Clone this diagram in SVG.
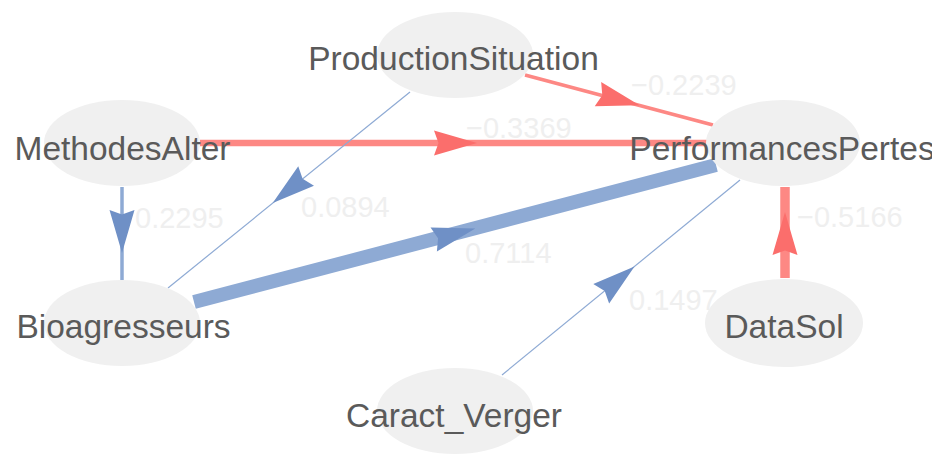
<svg xmlns="http://www.w3.org/2000/svg" xmlns:xlink="http://www.w3.org/1999/xlink" width="939" height="454" viewBox="0 0 939 454">
<style>
.node ellipse{fill:#f0f0f0;}
.node text{font-family:"Liberation Sans",Arial,sans-serif;font-size:33.5px;fill:#5a5a5a;text-anchor:middle;}
.lbl{font-family:"Liberation Sans",Arial,sans-serif;font-size:29px;fill:#efefef;}
.er{stroke:#fd8884;fill:none;stroke-linecap:butt;}
.eb{stroke:#8eaad4;fill:none;stroke-linecap:butt;}
.ar{fill:#fb6e6c;}
.ab{fill:#6f90c6;}
</style>
<defs>
<path id="arr" d="M0,0 L-43,12.5 L-38.5,0 L-43,-12.5 Z"/>
<clipPath id="clip"><rect x="0" y="0" width="932" height="454"/></clipPath>
</defs>
<rect width="939" height="454" fill="#ffffff"/>
<g id="connectors">
<g id="e-methodes-perf">
<line class="er" x1="200" y1="143" x2="708" y2="143" stroke-width="6.5"/>
<use href="#arr" class="ar" transform="translate(477,143)"/>
<text class="lbl" x="466" y="138">−0.3369</text>
</g>
<g id="e-prod-perf">
<line class="er" x1="525" y1="75" x2="713" y2="125" stroke-width="3.5"/>
<use href="#arr" class="ar" transform="translate(639.5,105.2) rotate(14.9)"/>
<text class="lbl" x="631" y="95">−0.2239</text>
</g>
<g id="e-prod-bio">
<line class="eb" x1="410" y1="92" x2="168" y2="288" stroke-width="1.2"/>
<use href="#arr" class="ab" transform="translate(272.7,203) rotate(141)"/>
<text class="lbl" x="301" y="217">0.0894</text>
</g>
<g id="e-methodes-bio">
<line class="eb" x1="122" y1="187" x2="122" y2="280" stroke-width="3.5"/>
<use href="#arr" class="ab" transform="translate(122,253) rotate(90)"/>
<text class="lbl" x="135" y="228">0.2295</text>
</g>
<g id="e-bio-perf">
<line class="eb" x1="194" y1="302" x2="716" y2="165" stroke-width="14"/>
<use href="#arr" class="ab" transform="translate(475.3,228.6) rotate(-14.7)"/>
<text class="lbl" x="465" y="263">0.7114</text>
</g>
<g id="e-caract-perf">
<line class="eb" x1="502" y1="375" x2="740" y2="180" stroke-width="1.2"/>
<use href="#arr" class="ab" transform="translate(634.5,266.5) rotate(-39.3)"/>
<text class="lbl" x="629" y="310">0.1497</text>
</g>
<g id="e-datasol-perf">
<line class="er" x1="785" y1="278" x2="785" y2="187" stroke-width="9.5"/>
<use href="#arr" class="ar" transform="translate(785,212) rotate(-90)"/>
<text class="lbl" x="797" y="227">−0.5166</text>
</g>
</g>
<g id="n-prod" class="node">
<ellipse cx="455" cy="55" rx="78" ry="43"/>
<text x="453.5" y="70">ProductionSituation</text>
</g>
<g id="n-methodes" class="node">
<ellipse cx="122" cy="143" rx="78" ry="43"/>
<text x="122.5" y="160">MethodesAlter</text>
</g>
<g id="n-perf" class="node" clip-path="url(#clip)">
<ellipse cx="783" cy="143" rx="77" ry="43"/>
<text x="782" y="160">PerformancesPertes</text>
</g>
<g id="n-bio" class="node">
<ellipse cx="122" cy="323" rx="78" ry="43"/>
<text x="123.5" y="338">Bioagresseurs</text>
</g>
<g id="n-caract" class="node">
<ellipse cx="455" cy="411" rx="78" ry="43"/>
<text x="454" y="427">Caract_Verger</text>
</g>
<g id="n-datasol" class="node">
<ellipse cx="784" cy="323" rx="79" ry="44"/>
<text x="784" y="338">DataSol</text>
</g>
</svg>
